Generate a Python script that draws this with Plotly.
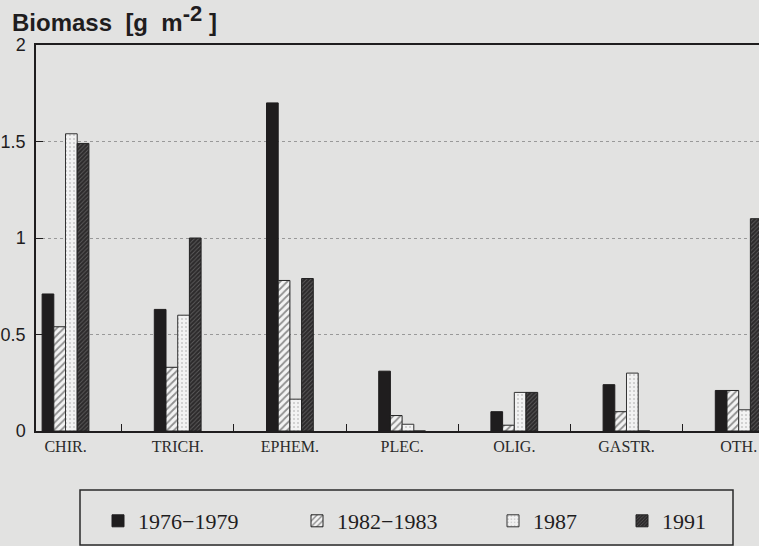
import plotly.graph_objects as go

# taxon groups along the x axis
categories = ["CHIR.", "TRICH.", "EPHEM.", "PLEC.", "OLIG.", "GASTR.", "OTH."]

# biomass [g m-2] per sampling period
y_1976_1979 = [0.71, 0.63, 1.70, 0.31, 0.10, 0.24, 0.21]
y_1982_1983 = [0.54, 0.33, 0.78, 0.08, 0.03, 0.10, 0.21]
y_1987 = [1.54, 0.60, 0.165, 0.035, 0.20, 0.30, 0.11]
y_1991 = [1.49, 1.00, 0.79, 0.0, 0.20, 0.0, 1.10]

period_names = ["1976\u22121979", "1982\u22121983", "1987", "1991"]
y_ticks = [0, 0.5, 1, 1.5, 2]
y_tick_text = ["0", "0.5", "1", "1.5", "2"]

BG = '#e2e2e1'
INK = '#1f1d1e'
SERIF = 'Liberation Serif, Times New Roman, serif'
SANS = 'Liberation Sans, Arial, sans-serif'

styles = [
    dict(color=INK, line=dict(color=INK, width=1)),
    dict(color='#f3f3f3', line=dict(color='#222', width=1),
         pattern=dict(shape='/', bgcolor='#f3f3f3', fgcolor='#2a2a2a', size=5, solidity=0.35)),
    dict(color='#f2f2f2', line=dict(color='#333', width=1),
         pattern=dict(shape='.', bgcolor='#f2f2f2', fgcolor='#9a9a9a', size=4, solidity=0.2)),
    dict(color='#2c2a2b', line=dict(color='#222', width=1),
         pattern=dict(shape='/', bgcolor='#2c2a2b', fgcolor='#8f8f8f', size=3, solidity=0.3)),
]
series = [y_1976_1979, y_1982_1983, y_1987, y_1991]
legend_ids = ['legend', 'legend2', 'legend3', 'legend4']

fig = go.Figure()
for name, vals, st, lg in zip(period_names, series, styles, legend_ids):
    fig.add_trace(go.Bar(x=categories, y=vals, name=name, marker=st, legend=lg))

# one legend per entry so the items can sit where the original has them
PLOT_L, PLOT_W, PLOT_T, PLOT_B = 36, 723, 45, 431
PLOT_H = PLOT_B - PLOT_T
def px_x(p):
    return (p - PLOT_L) / PLOT_W
def px_y(p):
    return (PLOT_B - p) / PLOT_H

legend_text_x = [138, 337, 533, 662]
legend_common = dict(
    orientation='h', xanchor='left', yanchor='middle', y=px_y(521),
    bgcolor='rgba(0,0,0,0)', borderwidth=0,
    font=dict(family=SERIF, size=22, color=INK),
)
legend_layout = {}
for lg, tx in zip(legend_ids, legend_text_x):
    legend_layout[lg] = dict(legend_common, x=px_x(tx - 40))

title_text = ('<b>Biomass&nbsp;&nbsp;[g&nbsp;&nbsp;m'
              '<sup><span style="font-size:22px">-2</span></sup>&nbsp;]</b>')

fig.update_layout(
    width=759, height=546,
    paper_bgcolor=BG, plot_bgcolor=BG,
    margin=dict(l=PLOT_L, r=0, t=PLOT_T, b=546 - PLOT_B, autoexpand=False),
    barmode='group', bargap=0.583, bargroupgap=0,
    showlegend=True,
    **legend_layout,
    xaxis=dict(
        range=[-0.263, 6.181], showgrid=False, zeroline=False,
        showline=True, mirror=True, linecolor=INK, linewidth=1.5,
        ticks='inside', ticklen=7, tickcolor=INK, tickson='boundaries',
        tickfont=dict(family=SERIF, size=16, color='#2a2a2a'),
    ),
    yaxis=dict(
        range=[0, 2], tickvals=y_ticks, ticktext=y_tick_text,
        showgrid=True, gridcolor='#999999', griddash='dot', gridwidth=1,
        zeroline=False, showline=True, linecolor=INK, linewidth=1.5,
        ticks='inside', ticklen=7, tickcolor=INK, ticklabelstandoff=5,
        tickfont=dict(family=SANS, size=18, color=INK),
    ),
    annotations=[dict(
        text=title_text, xref='paper', yref='paper',
        x=px_x(10), y=px_y(19), xanchor='left', yanchor='middle', showarrow=False,
        font=dict(family=SANS, size=24, color=INK),
    )],
    shapes=[dict(
        type='rect', xref='paper', yref='paper',
        x0=px_x(80), x1=px_x(733), y0=px_y(490), y1=px_y(545),
        line=dict(color='#2a2a2a', width=1.5), fillcolor='rgba(0,0,0,0)',
    )],
)

# drop the browser's default page margin so the figure fills the window
fig.write_html("out.html", config={'displayModeBar': False},
               post_script="document.body.style.margin='0';document.body.style.overflow='hidden';")
